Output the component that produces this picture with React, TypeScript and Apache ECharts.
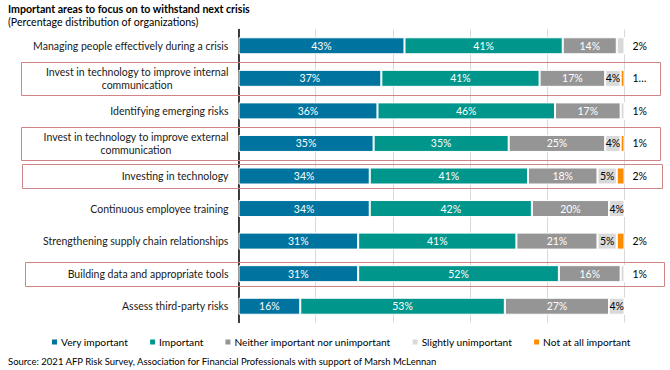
import React, { useEffect, useRef } from "react";
import * as echarts from "echarts";

const categories = [
  "Managing people effectively during a crisis",
  "Invest in technology to improve internal\ncommunication",
  "Identifying emerging risks",
  "Invest in technology to improve external\ncommunication",
  "Investing in technology",
  "Continuous employee training",
  "Strengthening supply chain relationships",
  "Building data and appropriate tools",
  "Assess third-party risks",
];
const seriesNames = [
  "Very important",
  "Important",
  "Neither important nor unimportant",
  "Slightly unimportant",
  "Not at all important",
];
const veryImportant = [43, 37, 36, 35, 34, 34, 31, 31, 16];
const important = [41, 41, 46, 35, 41, 42, 41, 52, 53];
const neither = [14, 17, 17, 25, 18, 20, 21, 16, 27];
const slightly = [2, 4, 1, 4, 5, 4, 5, 1, 4];
const notAtAll = [0, 1, 0, 1, 2, 0, 2, 0, 0];
// truncated label text shown in the original for row 2 "Not at all important"
const truncatedLabels: Record<number, string> = { 1: "1…" };
const highlightedRows = [1, 3, 4, 7];

const colors = ["#00739e", "#00968b", "#959595", "#d9d9d9", "#ff8c00"];
const FONT = "Lato";

export default function App() {
  const ref = useRef<HTMLDivElement>(null);
  useEffect(() => {
    document.body.style.margin = "0";
    const chart = echarts.init(ref.current!, null, { renderer: "svg" });
    const all = [veryImportant, important, neither, slightly, notAtAll];

    const makeData = (si: number) =>
      all[si].map((v, i) => {
        const isLast = all.slice(si + 1).every((arr) => arr[i] === 0);
        const outside = isLast && v > 0 && v <= 2;
        const dark = si < 3;
        const text = truncatedLabels[i] && si === 4 ? truncatedLabels[i] : `${v}%`;
        return {
          value: v,
          label: {
            show: v > 0,
            position: outside ? "right" : "inside",
            distance: 8,
            color: outside ? "#000" : dark ? "#fff" : "#000",
            formatter: () => text,
          },
        };
      });

    const option: any = {
      animation: false,
      title: [
        {
          text: "Important areas to focus on to withstand next crisis",
          left: 8,
          top: 3,
          padding: 0,
          textStyle: { fontSize: 10.6, fontWeight: "bold", fontFamily: FONT, color: "#000" },
        },
        {
          text: "(Percentage distribution of organizations)",
          left: 8,
          top: 16,
          padding: 0,
          textStyle: { fontSize: 10.6, fontWeight: "normal", fontFamily: FONT, color: "#000" },
        },
        {
          text: "Source: 2021 AFP Risk Survey, Association for Financial Professionals with support of Marsh McLennan",
          left: 8,
          top: 356,
          padding: 0,
          textStyle: { fontSize: 9.5, fontWeight: "normal", fontFamily: FONT, color: "#000" },
        },
      ],
      legend: {
        data: seriesNames,
        left: 50,
        top: 337,
        padding: 0,
        icon: "rect",
        itemWidth: 7,
        itemHeight: 7,
        itemGap: 20,
        textStyle: { fontSize: 10.2, fontFamily: FONT, color: "#000", padding: [0, 0, 0, -2] },
      },
      grid: { left: 238.5, right: 45.5, top: 29.5, bottom: 47.5, containLabel: false },
      xAxis: {
        type: "value",
        min: 0,
        max: 100,
        interval: 20,
        axisLabel: { show: false },
        axisLine: { show: false },
        axisTick: { show: false },
        splitLine: { show: true, lineStyle: { color: "#d9d9d9", width: 1 } },
      },
      yAxis: {
        type: "category",
        data: categories,
        inverse: true,
        axisLine: { show: true, lineStyle: { color: "#000", width: 1.5 } },
        axisTick: { show: false },
        axisLabel: {
          margin: 10,
          formatter: (v: string) =>
            v
              .split("\n")
              .map((l) => `{c|${l}}`)
              .join("\n"),
          rich: {
            c: { align: "center", fontSize: 10.5, fontFamily: FONT, color: "#1a1a1a", lineHeight: 13.5 },
          },
        },
      },
      series: seriesNames.map((name, si) => ({
        name,
        type: "bar",
        stack: "total",
        barWidth: 17,
        itemStyle: { color: colors[si], borderColor: "#fff", borderWidth: 1 },
        label: { fontSize: 10.5, fontFamily: FONT },
        data: makeData(si),
      })),
    };
    chart.setOption(option);

    const boxes = highlightedRows.map((row) => {
      const yc = chart.convertToPixel({ yAxisIndex: 0 }, categories[row]) as number;
      const twoLine = categories[row].includes("\n");
      const h = twoLine ? 33 : 24;
      const left = row === 7 ? 25 : row === 4 ? 22 : 21;
      const right = row === 7 ? 664 : row === 4 ? 662 : 660;
      return {
        type: "rect",
        shape: { x: left + 0.5, y: Math.round(yc - h / 2) + 0.5, width: right - left, height: h },
        style: { fill: "none", stroke: "#cf8585", lineWidth: 1 },
        z: 10,
      };
    });
    chart.setOption({ graphic: boxes });

    return () => chart.dispose();
  }, []);
  return <div ref={ref} style={{ width: 670, height: 370 }} />;
}
